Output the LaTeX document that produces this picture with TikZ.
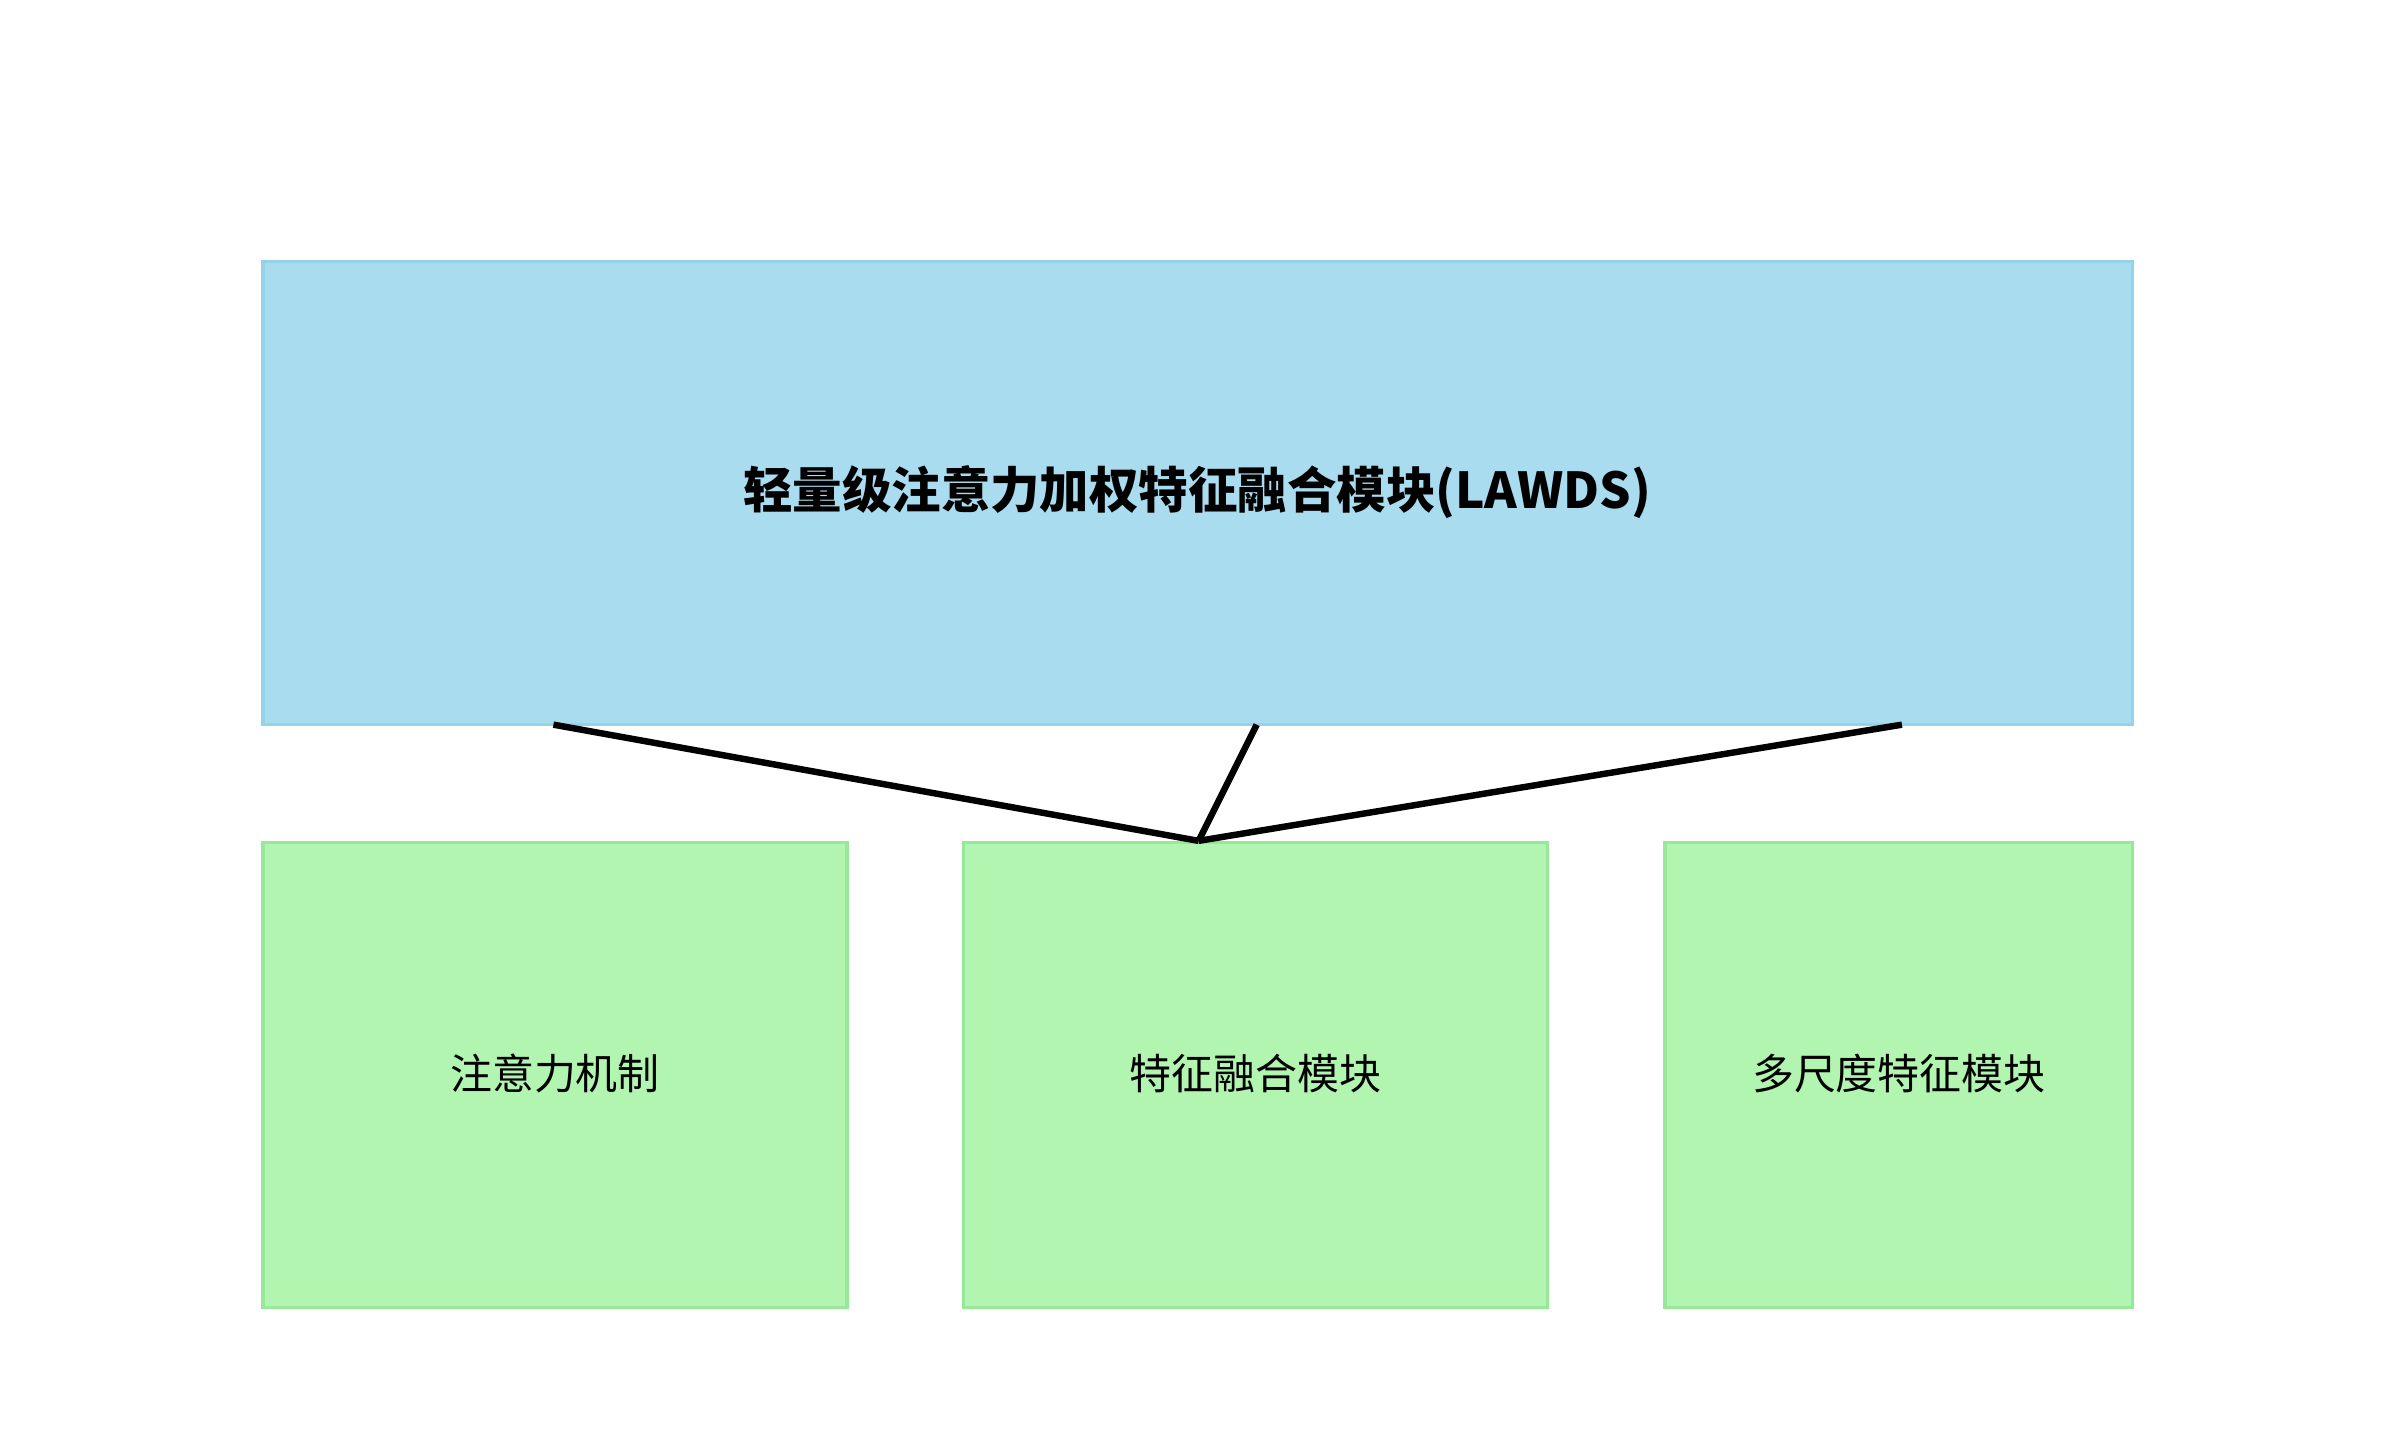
\documentclass[tikz,border=0pt]{standalone}
\usepackage{fontspec}
\newfontfamily\cjk{Noto Sans CJK SC}
\definecolor{bfill}{HTML}{AADCEF}
\definecolor{bdraw}{HTML}{94D3EA}
\definecolor{gfill}{HTML}{B2F5B0}
\definecolor{gdraw}{HTML}{98E89A}
\begin{document}
\begin{tikzpicture}[x=0.01cm,y=-0.01cm,
  topbox/.style={draw=bdraw,fill=bfill,line width=0.6pt},
  subbox/.style={draw=gdraw,fill=gfill,line width=0.6pt},
  conn/.style={line width=1.2pt,black}]
\useasboundingbox (0,0) rectangle (1560,946);
\draw[topbox] (172,171) rectangle (1395,474);
\node[font=\cjk\bfseries\fontsize{9.2pt}{11pt}\selectfont] (top) at (783,322) {轻量级注意力加权特征融合模块(LAWDS)};
\draw[subbox] (172,551) rectangle (554,855);
\draw[subbox] (630,551) rectangle (1012,855);
\draw[subbox] (1089,551) rectangle (1395,855);
\node[font=\cjk\fontsize{7.8pt}{9pt}\selectfont] (a) at (363,702) {注意力机制};
\node[font=\cjk\fontsize{7.8pt}{9pt}\selectfont] (b) at (821,702) {特征融合模块};
\node[font=\cjk\fontsize{7.8pt}{9pt}\selectfont] (c) at (1242,702) {多尺度特征模块};
\coordinate (p1) at (362,474);
\coordinate (p2) at (822,474);
\coordinate (p3) at (1244,474);
\coordinate (m) at (784,550);
\draw[conn] (p1) -- (m);
\draw[conn] (p2) -- (m);
\draw[conn] (p3) -- (m);
\end{tikzpicture}
\end{document}
